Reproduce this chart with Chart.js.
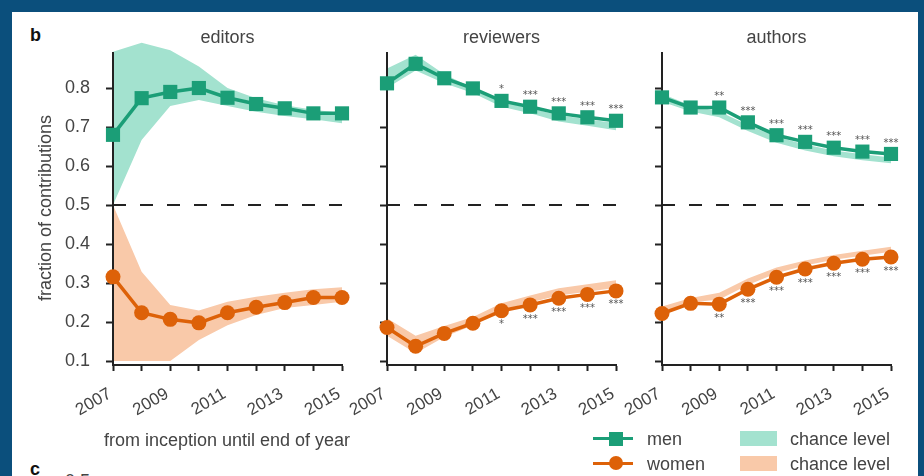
<!DOCTYPE html>
<html>
<head>
<meta charset="utf-8">
<script src="https://cdn.jsdelivr.net/npm/chart.js@4.4.1/dist/chart.umd.min.js"></script>
<style>
  body { margin: 0; width: 924px; height: 476px; overflow: hidden; background: #0b4f7c; font-family: "Liberation Sans", Arial, sans-serif; }
  #sheet { position: absolute; left: 12px; top: 12px; width: 906px; height: 480px; background: #fff; }
  canvas { position: absolute; top: 12px; }
  .txt { position: absolute; font-size: 18px; line-height: 18px; color: #444; white-space: nowrap; }
  .lbl { position: absolute; font-weight: bold; font-size: 18px; line-height: 18px; color: #111; }
  .key-line { position: absolute; height: 3px; width: 40px; }
  .key-patch { position: absolute; width: 37px; height: 15px; }
</style>
</head>
<body>
<div id="sheet"></div>
<div class="lbl" style="left:30px; top:26px;">b</div>
<div class="lbl" style="left:30px; top:460px;">c</div>
<div class="txt" style="left:65px; top:472px;">0.5</div>

<canvas id="editors" width="349" height="423" style="left:13px"></canvas>
<canvas id="reviewers" width="349" height="423" style="left:287px"></canvas>
<canvas id="authors" width="349" height="423" style="left:562px"></canvas>

<div class="txt" style="left:-75px; top:197px; width:240px; text-align:center; line-height:22px; transform:rotate(-90deg);">fraction of contributions</div>
<div class="txt" style="left:67px; top:431px; width:320px; text-align:center;">from inception until end of year</div>

<!-- legend -->
<div class="key-line" style="left:593px; top:437px; background:#1b9e77;"></div>
<div style="position:absolute; left:609px; top:432px; width:14px; height:14px; background:#1b9e77;"></div>
<div class="txt" style="left:647px; top:430px;">men</div>
<div class="key-line" style="left:593px; top:462px; background:#dd6108;"></div>
<div style="position:absolute; left:609px; top:456px; width:14px; height:14px; border-radius:50%; background:#dd6108;"></div>
<div class="txt" style="left:647px; top:455px;">women</div>
<div class="key-patch" style="left:740px; top:431px; background:#a3e2cf;"></div>
<div class="txt" style="left:790px; top:430px;">chance level</div>
<div class="key-patch" style="left:740px; top:456px; background:#f9c9a9;"></div>
<div class="txt" style="left:790px; top:455px;">chance level</div>

<script>
const years = ['2007', '2008', '2009', '2010', '2011', '2012', '2013', '2014', '2015'];
const yearLabels = ['2007', '', '2009', '', '2011', '', '2013', '', '2015'];
const yTicks = [0.1, 0.2, 0.3, 0.4, 0.5, 0.6, 0.7, 0.8];
const parity = [0.5, 0.5, 0.5, 0.5, 0.5, 0.5, 0.5, 0.5, 0.5];

// editors
const editorsMen = [0.680, 0.774, 0.790, 0.800, 0.775, 0.759, 0.748, 0.735, 0.735];
const editorsMenHi = [0.893, 0.916, 0.897, 0.855, 0.800, 0.774, 0.756, 0.744, 0.736];
const editorsMenLo = [0.500, 0.667, 0.754, 0.769, 0.754, 0.739, 0.728, 0.720, 0.710];
const editorsWomen = [0.316, 0.224, 0.207, 0.198, 0.224, 0.238, 0.250, 0.263, 0.263];
const editorsWomenHi = [0.500, 0.329, 0.244, 0.230, 0.252, 0.265, 0.275, 0.284, 0.289];
const editorsWomenLo = [0.100, 0.100, 0.100, 0.154, 0.192, 0.218, 0.236, 0.244, 0.252];

// reviewers
const reviewersMen = [0.812, 0.862, 0.825, 0.799, 0.767, 0.752, 0.735, 0.725, 0.716];
const reviewersMenHi = [0.850, 0.885, 0.835, 0.800, 0.765, 0.748, 0.730, 0.720, 0.710];
const reviewersMenLo = [0.800, 0.845, 0.812, 0.787, 0.752, 0.735, 0.714, 0.703, 0.692];
const reviewersWomen = [0.186, 0.138, 0.171, 0.197, 0.229, 0.244, 0.261, 0.271, 0.280];
const reviewersWomenHi = [0.210, 0.165, 0.190, 0.213, 0.248, 0.268, 0.287, 0.297, 0.307];
const reviewersWomenLo = [0.165, 0.120, 0.162, 0.192, 0.230, 0.250, 0.268, 0.278, 0.288];
const reviewersSig = ['', '', '', '', '*', '***', '***', '***', '***'];

// authors
const authorsMen = [0.776, 0.750, 0.750, 0.712, 0.679, 0.662, 0.647, 0.637, 0.631];
const authorsMenHi = [0.785, 0.755, 0.740, 0.705, 0.675, 0.655, 0.640, 0.630, 0.622];
const authorsMenLo = [0.765, 0.740, 0.725, 0.690, 0.660, 0.640, 0.625, 0.615, 0.607];
const authorsWomen = [0.222, 0.248, 0.246, 0.284, 0.315, 0.336, 0.351, 0.361, 0.367];
const authorsWomenHi = [0.240, 0.262, 0.275, 0.312, 0.340, 0.358, 0.372, 0.383, 0.393];
const authorsWomenLo = [0.222, 0.250, 0.258, 0.295, 0.325, 0.345, 0.360, 0.370, 0.380];
const authorsSig = ['', '', '**', '***', '***', '***', '***', '***', '***'];

const GREEN = '#1b9e77', ORANGE = '#dd6108';
const GREEN_BAND = '#a3e2cf', ORANGE_BAND = '#f9c9a9';
const INK = '#222';

// titles, the left spine and significance stars
const panelDecor = {
  id: 'panelDecor',
  beforeDatasetsDraw(chart, args, opts) {
    const ctx = chart.ctx, area = chart.chartArea;
    const top = chart.scales.y.getPixelForValue(0.892);
    ctx.save();
    ctx.strokeStyle = INK;
    ctx.lineWidth = 2;
    ctx.beginPath();
    ctx.moveTo(area.left, area.bottom + 1);
    ctx.lineTo(area.left, top);
    ctx.stroke();
    ctx.restore();
  },
  afterDatasetsDraw(chart, args, opts) {
    const ctx = chart.ctx, area = chart.chartArea;
    ctx.save();
    ctx.fillStyle = '#444';
    ctx.font = '18px "Liberation Sans", Arial, sans-serif';
    ctx.textAlign = 'center';
    ctx.textBaseline = 'alphabetic';
    ctx.fillText(opts.title, (area.left + area.right) / 2, 31);

    ctx.fillStyle = '#555';
    ctx.font = '10px "DejaVu Sans", sans-serif';
    ctx.textBaseline = 'middle';
    chart.data.datasets.forEach((ds, di) => {
      if (!ds.stars) return;
      const meta = chart.getDatasetMeta(di);
      meta.data.forEach((pt, i) => {
        if (ds.stars[i]) ctx.fillText(ds.stars[i], pt.x, pt.y + ds.starShift);
      });
    });
    ctx.restore();
  }
};

function makePanel(id, title, men, menHi, menLo, women, womenHi, womenLo, sig, showY) {
  const datasets = [
    { data: men, borderColor: GREEN, backgroundColor: GREEN, borderWidth: 3.5,
      pointStyle: 'rect', pointRadius: 10, pointHoverRadius: 10, pointBorderWidth: 0,
      stars: sig, starShift: -11, order: 1, clip: false },
    { data: women, borderColor: ORANGE, backgroundColor: ORANGE, borderWidth: 3.5,
      pointStyle: 'circle', pointRadius: 7.5, pointHoverRadius: 7.5, pointBorderWidth: 0,
      stars: sig, starShift: 14, order: 1, clip: false },
    { data: parity, borderColor: INK, borderWidth: 2, borderDash: [13, 14],
      pointRadius: 0, order: 2, clip: false },
    { data: menHi, borderWidth: 0, pointRadius: 0, fill: '+1', backgroundColor: GREEN_BAND, order: 3 },
    { data: menLo, borderWidth: 0, pointRadius: 0, fill: false, order: 3 },
    { data: womenHi, borderWidth: 0, pointRadius: 0, fill: '+1', backgroundColor: ORANGE_BAND, order: 3 },
    { data: womenLo, borderWidth: 0, pointRadius: 0, fill: false, order: 3 }
  ];

  new Chart(document.getElementById(id), {
    type: 'line',
    data: { labels: years, datasets: datasets },
    options: {
      responsive: false,
      animation: false,
      events: [],
      layout: { padding: { top: 27.25, right: 20, bottom: 0, left: 0 } },
      plugins: {
        legend: { display: false },
        tooltip: { enabled: false },
        filler: { drawTime: 'beforeDatasetsDraw' },
        panelDecor: { title: title }
      },
      scales: {
        x: {
          offset: false,
          grid: { display: true, drawOnChartArea: false, drawTicks: true, tickLength: 6, tickColor: INK, tickWidth: 2 },
          border: { display: true, color: INK, width: 2 },
          ticks: {
            autoSkip: false, minRotation: 30, maxRotation: 30, padding: 13, labelOffset: -3, color: '#444',
            font: { family: '"Liberation Sans", Arial, sans-serif', size: 17 },
            callback: (v, i) => yearLabels[i]
          },
          // the rotated labels hang left of their ticks, so no side room is needed
          afterFit: s => { s.height = 70; s.paddingLeft = 0; s.paddingRight = 0; }
        },
        y: {
          min: 0.09,
          max: 0.925,
          grid: { display: true, drawOnChartArea: false, drawTicks: true, tickLength: 7, tickColor: INK, tickWidth: 2 },
          border: { display: false },
          ticks: {
            display: showY, padding: 16, color: '#444',
            font: { family: '"Liberation Sans", Arial, sans-serif', size: 18 },
            callback: v => v.toFixed(1)
          },
          afterBuildTicks: s => { s.ticks = yTicks.map(v => ({ value: v })); },
          afterFit: s => { s.width = 100; }
        }
      }
    },
    plugins: [panelDecor]
  });
}

makePanel('editors', 'editors', editorsMen, editorsMenHi, editorsMenLo,
  editorsWomen, editorsWomenHi, editorsWomenLo, null, true);
makePanel('reviewers', 'reviewers', reviewersMen, reviewersMenHi, reviewersMenLo,
  reviewersWomen, reviewersWomenHi, reviewersWomenLo, reviewersSig, false);
makePanel('authors', 'authors', authorsMen, authorsMenHi, authorsMenLo,
  authorsWomen, authorsWomenHi, authorsWomenLo, authorsSig, false);
</script>
</body>
</html>
